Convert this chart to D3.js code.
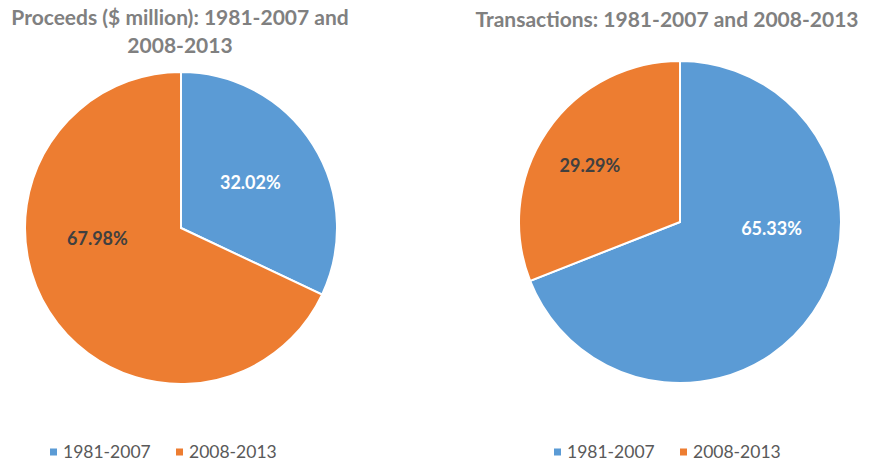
<!DOCTYPE html>
<html>
<head>
<meta charset="utf-8">
<script src="https://cdnjs.cloudflare.com/ajax/libs/d3/7.8.5/d3.min.js"></script>
<style>
  body { margin: 0; background: #fff; }
  text { font-family: Lato, "Open Sans", sans-serif; }
</style>
</head>
<body>
<svg id="chart" width="870" height="463"></svg>
<script>
var categories = ["1981-2007", "2008-2013"];
var proceeds = [32.02, 67.98];
var transactions = [65.33, 29.29];
var titles = [["Proceeds ($ million): 1981-2007 and", "2008-2013"], ["Transactions: 1981-2007 and 2008-2013"]];

var colors = d3.scaleOrdinal().domain(categories).range(["#5B9BD5", "#ED7D31"]);
var labelColors = d3.scaleOrdinal().domain(categories).range(["#ffffff", "#404040"]);

// layout per chart (label angle in degrees clockwise from 12 o'clock, radius as fraction)
var charts = [
  { values: proceeds, title: titles[0], cx: 181, cy: 228, r: 156, titleX: 180, titleY: 25,
    labels: [[57, 0.53], [263, 0.54]], legendX: 50 },
  { values: transactions, title: titles[1], cx: 680, cy: 222, r: 161, titleX: 667, titleY: 27,
    labels: [[94, 0.57], [302, 0.66]], legendX: 554 }
];

var svg = d3.select("#chart");
var pie = d3.pie().sort(null).value(function(d) { return d; });

charts.forEach(function(c) {
  var g = svg.append("g").attr("transform", "translate(" + c.cx + "," + c.cy + ")");
  var arc = d3.arc().innerRadius(0).outerRadius(c.r);
  var slices = pie(c.values);

  g.selectAll("path").data(slices).enter().append("path")
    .attr("d", arc)
    .attr("fill", function(d, i) { return colors(categories[i]); })
    .attr("stroke", "#fff")
    .attr("stroke-width", 2)
    .attr("stroke-linejoin", "miter");

  g.selectAll("text.lbl").data(slices).enter().append("text")
    .attr("class", "lbl")
    .attr("x", function(d, i) { return Math.sin(c.labels[i][0] * Math.PI / 180) * c.labels[i][1] * c.r; })
    .attr("y", function(d, i) { return -Math.cos(c.labels[i][0] * Math.PI / 180) * c.labels[i][1] * c.r; })
    .attr("dy", "0.35em")
    .attr("text-anchor", "middle")
    .attr("font-size", 18)
    .attr("font-weight", "bold")
    .attr("fill", function(d, i) { return labelColors(categories[i]); })
    .text(function(d) { return d.data.toFixed(2) + "%"; });

  svg.append("text")
    .attr("x", c.titleX)
    .attr("y", c.titleY)
    .attr("text-anchor", "middle")
    .attr("font-size", 21)
    .attr("font-weight", "bold")
    .attr("fill", "#808080")
    .selectAll("tspan").data(c.title).enter().append("tspan")
    .attr("x", c.titleX)
    .attr("dy", function(d, i) { return i == 0 ? 0 : 28; })
    .text(function(d) { return d; });

  var lg = svg.append("g").attr("transform", "translate(" + c.legendX + ",452)");
  var item = lg.selectAll("g").data(categories).enter().append("g")
    .attr("transform", function(d, i) { return "translate(" + (i * 126) + ",0)"; });
  item.append("rect")
    .attr("x", 0).attr("y", -3.5).attr("width", 7).attr("height", 7)
    .attr("fill", function(d) { return colors(d); });
  item.append("text")
    .attr("x", 13)
    .attr("dy", "0.35em")
    .attr("font-size", 17.5)
    .attr("fill", "#595959")
    .text(function(d) { return d; });
});
</script>
</body>
</html>
